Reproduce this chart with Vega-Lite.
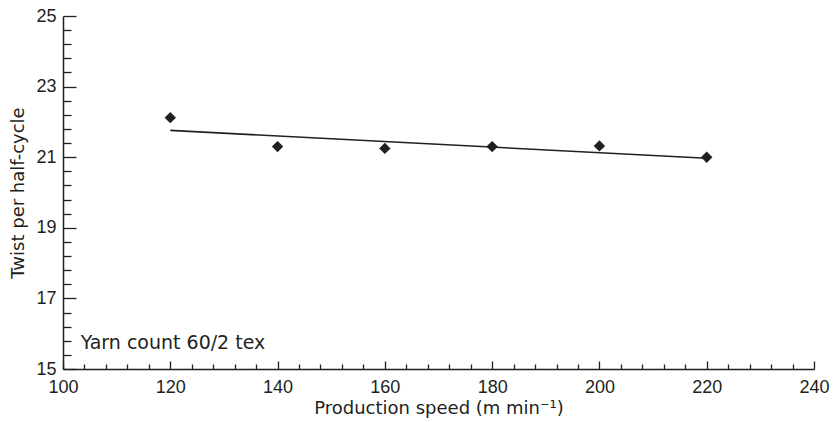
{
  "$schema": "https://vega.github.io/schema/vega-lite/v6.json",
  "width": 751,
  "height": 353,
  "autosize": {"type": "none"},
  "padding": {"left": 63, "top": 16, "right": 21, "bottom": 53},
  "background": "white",
  "config": {
    "view": {"stroke": null},
    "font": "Liberation Sans",
    "axis": {
      "domainColor": "#231f20",
      "domainWidth": 1.5,
      "tickColor": "#231f20",
      "tickWidth": 1.3,
      "labelColor": "#231f20",
      "titleColor": "#231f20",
      "labelFont": "Liberation Sans",
      "labelFontSize": 18,
      "titleFont": "DejaVu Sans",
      "titleFontSize": 18,
      "titleFontWeight": "normal",
      "grid": false,
      "labelOverlap": false,
      "labelFlush": false,
      "labelBound": false,
      "tickCount": 200
    }
  },
  "datasets": {
    "points": [
      {"speed": 120, "twist": 22.12},
      {"speed": 140, "twist": 21.3},
      {"speed": 160, "twist": 21.25},
      {"speed": 180, "twist": 21.3},
      {"speed": 200, "twist": 21.32},
      {"speed": 220, "twist": 21.0}
    ],
    "fit": [
      {"speed": 120, "twist": 21.76},
      {"speed": 220, "twist": 20.97}
    ],
    "note": [
      {"speed": 103.3, "twist": 15.58, "label": "Yarn count 60/2 tex"}
    ]
  },
  "layer": [
    {
      "data": {"name": "fit"},
      "mark": {"type": "line", "color": "#231f20", "strokeWidth": 1.6},
      "encoding": {
        "x": {
          "field": "speed", "type": "quantitative",
          "scale": {"domain": [100, 240], "nice": false, "zero": false},
          "axis": {
            "title": "Production speed (m min⁻¹)",
            "titlePadding": 0,
            "tickCount": 200,
            "values": [100,104,108,112,116,120,124,128,132,136,140,144,148,152,156,160,164,168,172,176,180,184,188,192,196,200,204,208,212,216,220,224,228,232,236,240],
            "labelExpr": "datum.value % 20 === 0 ? toString(round(datum.value)) : ''",
            "tickSize": {"condition": {"test": "datum.value % 20 === 0", "value": -8}, "value": -5},
            "labelPadding": 17
          }
        },
        "y": {
          "field": "twist", "type": "quantitative",
          "scale": {"domain": [15, 25], "nice": false, "zero": false},
          "axis": {
            "title": "Twist per half-cycle",
            "titlePadding": 8,
            "tickCount": 200,
            "values": [15,15.4,15.8,16.2,16.6,17,17.4,17.8,18.2,18.6,19,19.4,19.8,20.2,20.6,21,21.4,21.8,22.2,22.6,23,23.4,23.8,24.2,24.6,25],
            "labelExpr": "(abs(datum.value - round(datum.value)) < 0.01 && round(datum.value) % 2 === 1) ? toString(round(datum.value)) : ''",
            "tickSize": {"condition": {"test": "abs(datum.value - round(datum.value)) < 0.01 && round(datum.value) % 2 === 1", "value": -13}, "value": -8},
            "labelPadding": 20
          }
        }
      }
    },
    {
      "data": {"name": "points"},
      "mark": {"type": "point", "shape": "diamond", "filled": true, "color": "#231f20", "opacity": 1, "size": 130},
      "encoding": {
        "x": {"field": "speed", "type": "quantitative"},
        "y": {"field": "twist", "type": "quantitative"}
      }
    },
    {
      "data": {"name": "note"},
      "mark": {"type": "text", "align": "left", "baseline": "alphabetic", "font": "DejaVu Sans", "fontSize": 19, "color": "#231f20"},
      "encoding": {
        "x": {"field": "speed", "type": "quantitative"},
        "y": {"field": "twist", "type": "quantitative"},
        "text": {"field": "label"}
      }
    }
  ]
}
